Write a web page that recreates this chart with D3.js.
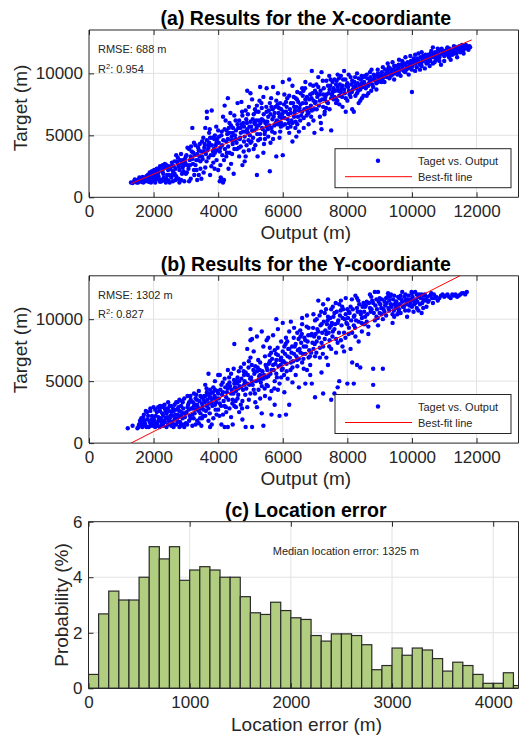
<!DOCTYPE html>
<html>
<head>
<meta charset="utf-8">
<script src="https://cdn.jsdelivr.net/npm/d3@7"></script>
<style>
  body { margin: 0; background: #fff; }
  text { font-family: "Liberation Sans", Arial, Helvetica, sans-serif; }
</style>
</head>
<body>
<script>
// (a) X-coordinate: [output, target] in metres
const pointsX = [
  [1300,1200],[1350,1150],[1400,1300],[1450,1250],[1500,1400],[1520,1200],[1600,1350],[1650,1500],[1700,1600],[1750,1300],[1780,1700],[1420,1450],[1560,1600],[1680,1200],[1800,1450],
  [1850,1250],[1900,1800],[1950,2100],[2000,1400],[2050,1200],[2100,2300],[2150,1700],[2200,2500],[2250,1300],[2300,1900],[2350,2700],[2400,1500],[2450,2200],[2500,1200],[1900,1300],[2000,2000],[2100,1500],[2200,1250],[2300,2300],[2400,2600],[2480,1800],[2050,1700],[2150,2000],[2350,1400],[1950,1600],
  [2550,2500],[2600,1300],[2650,2900],[2700,1700],[2750,3200],[2800,2200],[2850,1400],[2900,3000],[2950,2600],[3000,1900],[2600,2100],[2700,3400],[2800,1200],[2900,2400],[2550,1600],[2750,2700],[2850,3500],[2950,1300],[2650,1900],[3000,3300],
  [3050,2600],[3100,3900],[3150,1500],[3200,3100],[3200,5600],[3250,2200],[3300,4200],[3350,3500],[3400,1800],[3450,2900],[3500,4500],[3100,1300],[3300,2600],[3400,3800],[3050,4000],[3150,3300],[3250,4400],[3350,1400],[3450,2300],[3500,3300],[3380,3000],[3480,1500],
  [3550,3700],[3600,2400],[3650,4600],[3650,6900],[3700,3200],[3720,5200],[3750,1800],[3800,4200],[3800,7000],[3850,2800],[3900,5000],[3900,3600],[3950,4400],[4000,2200],[3600,5600],[3700,4000],[3850,3400],[3950,3000],[3550,2000],[3750,4800],[4000,5400],[3650,6400],[3880,4700],[3980,3800],[3580,4300],
  [4050,1300],[4100,1500],[4150,1200],[4180,1400],[4080,1600],[4120,4200],[4200,5500],[4250,3300],[4300,8000],[4300,4700],[4350,6000],[4400,2700],[4450,5200],[4500,3900],[4150,6500],[4200,7400],[4250,4500],[4350,3600],[4400,5800],[4450,4300],[4500,6600],[4050,3700],[4100,5000],[4320,2300],[4480,1900],[4420,4900],[4280,5100],[4180,3000],[4380,6800],
  [4550,4700],[4600,5900],[4600,7600],[4650,3300],[4700,5200],[4750,6600],[4750,2600],[4800,4500],[4850,7000],[4900,8600],[4900,5500],[4950,3800],[5000,6100],[5000,8400],[4550,5400],[4650,6200],[4700,4100],[4800,5700],[4850,3300],[4950,7300],[4580,3900],[4680,4800],[4780,6000],[4880,4200],[4980,5000],[4720,7700],[4820,2900],[4920,6700],[5000,4400],
  [5050,5400],[5100,6700],[5150,4200],[5200,1800],[5200,7400],[5250,5800],[5300,8900],[5300,4700],[5350,6300],[5400,8100],[5400,3600],[5450,5300],[5500,8800],[5500,6900],[5050,7900],[5100,3900],[5150,5900],[5250,6900],[5300,5100],[5350,7200],[5450,4700],[5500,5700],[5080,4800],[5180,6200],[5280,7800],[5380,5500],[5480,6100],[5420,4300],[5220,3300],[5120,6000],
  [5550,6500],[5600,2100],[5600,7600],[5650,5600],[5700,8900],[5700,4700],[5750,6800],[5800,3300],[5800,7800],[5850,5900],[5900,6500],[5900,4800],[5950,7100],[6000,9300],[6000,3400],[6000,5800],[5550,4900],[5650,7300],[5750,5200],[5850,8400],[5950,6000],[5580,5800],[5680,6300],[5780,6000],[5880,7200],[5980,6700],[5620,4400],[5920,5300],
  [6050,6400],[6100,7700],[6150,5600],[6200,8200],[6250,6800],[6300,4500],[6300,9000],[6350,7300],[6400,6100],[6450,8500],[6500,7000],[6500,5300],[6100,6900],[6200,5200],[6250,7600],[6350,6500],[6400,8000],[6450,5900],[6050,8300],[6150,6300],[6380,7000],[6480,7700],[6200,9500],[6300,6000],[6420,4900],
  [6550,7500],[6600,8800],[6650,6400],[6700,9300],[6750,7200],[6800,5900],[6850,8300],[6900,10200],[6900,7000],[6950,6200],[7000,8600],[7000,7600],[6600,6900],[6700,7900],[6800,6800],[6850,9100],[6950,7800],[6550,8400],[6650,5600],[6750,8100],[6980,5200],[6620,7600],[6880,6500],
  [7050,7100],[7100,8900],[7150,7800],[7200,5500],[7200,10100],[7250,8300],[7300,6900],[7350,9400],[7400,7600],[7450,8700],[7500,5400],[7500,8000],[7100,9700],[7150,6500],[7300,7900],[7400,9000],[7050,8400],[7250,7300],[7350,8300],[7450,7100],[7180,6000],[7480,9500],
  [7550,8500],[7600,9500],[7650,7600],[7700,8900],[7750,8200],[7800,9800],[7850,7300],[7900,10200],[7900,8700],[7950,8000],[8000,9200],[7600,8100],[7700,9900],[7800,8500],[7950,6900],[7650,9100],[7850,9000],[8000,7800],[7580,7900],[7750,7500],
  [8050,8600],[8100,9700],[8150,7100],[8200,6900],[8250,9000],[8300,8400],[8350,9600],[8400,7800],[8450,9200],[8500,8200],[8100,8100],[8200,8900],[8300,10000],[8400,8700],[8500,9700],[8150,9400],[8350,7600],[8450,8000],[8250,8200],
  [8550,9100],[8600,9900],[8650,8400],[8700,9400],[8750,10300],[8800,8900],[8850,9700],[8900,9200],[8950,10000],[9000,9500],[8600,8200],[8700,10100],[8800,9500],[8900,8700],[8650,9000],[8950,9300],
  [9050,9800],[9100,10500],[9150,9300],[9200,10000],[9250,10800],[9300,9600],[9350,10300],[9400,9900],[9450,10600],[9500,10100],[9100,9600],[9250,10200],[9400,10900],[9450,9500],[9200,9900],[9350,9800],
  [9550,10400],[9600,11100],[9650,9800],[9700,10600],[9750,10200],[9800,11300],[9850,10500],[9900,9900],[9950,10800],[10000,8500],[10000,10300],[9600,10000],[9700,11000],[9800,10700],[9900,10400],[9650,10300],[9950,11400],[9550,9900],
  [10050,10800],[10100,11500],[10150,10500],[10200,11100],[10250,10700],[10300,11700],[10350,11000],[10400,10400],[10450,11300],[10500,10900],[10100,10200],[10200,11600],[10300,10600],[10400,11100],[10500,11500],[10150,11000],[10350,11400],[10250,10300],[10450,10800],
  [10550,11200],[10600,11800],[10650,10800],[10700,11500],[10750,11100],[10800,12000],[10850,11300],[10900,10700],[10950,11700],[11000,11400],[10600,11400],[10700,10900],[10800,11600],[10900,11900],[11000,11000],[10650,12100],[10850,11000],[10550,10600],
  [11050,11700],[11100,12100],[11150,11300],[11200,11900],[11250,11500],[11300,12200],[11350,11800],[11400,11300],[11450,12000],[11500,11700],[11550,12300],[11600,11900],[11650,12100],[11700,12200],[11750,11900],[11200,11100],[11400,12100],[11600,11600],[11100,11500],[11300,11600],[11500,12100],[11800,12100],
  // dense core along the diagonal
  [1430,1350],[1480,1200],[1530,1300],[1580,1450],[1620,1250],[1660,1650],[1720,1450],[1760,1550],[1820,1800],[1860,1500],[1880,2000],[1920,1200],[1970,1850],
  [2020,2200],[2070,1500],[2120,1900],[2170,2300],[2220,1450],[2270,2100],[2320,1600],[2370,2400],[2420,1800],[2470,2500],[2080,2100],[2180,1350],[2280,2600],[2380,1200],[2460,1350],
  [2520,2300],[2570,2800],[2620,2500],[2680,2300],[2720,2900],[2770,1500],[2820,3000],[2870,2700],[2920,2100],[2970,3100],[2580,1800],[2680,1400],[2780,2500],[2880,1900],[2980,2800],
  [3020,3400],[3080,2300],[3120,3000],[3180,3700],[3220,2700],[3280,3400],[3320,3000],[3380,4000],[3420,3300],[3470,3700],[3030,2000],[3130,2600],[3230,3600],[3330,2200],[3430,4300],[3160,4100],[3260,1800],
  [3520,3100],[3570,4000],[3620,3500],[3670,3800],[3720,4400],[3770,3400],[3820,4800],[3870,3900],[3920,4200],[3970,4700],[3540,4800],[3640,2900],[3740,5500],[3840,3700],[3940,5700],[3690,4200],[3790,2500],[3890,2300],
  [4020,4400],[4070,4000],[4110,5300],[4160,4600],[4210,3900],[4260,5400],[4310,4100],[4360,5200],[4410,4600],[4460,5600],[4030,4900],[4130,3400],[4230,6200],[4330,5600],[4430,3500],[4490,4600],[4070,2600],[4270,3600],
  [4520,5000],[4570,4400],[4620,5600],[4670,4700],[4720,5900],[4770,5300],[4820,4900],[4870,6300],[4920,5200],[4970,5700],[4540,6200],[4640,4000],[4740,6900],[4840,5300],[4940,4600],[4690,5600],[4890,6000],[4790,3700],
  [5020,5700],[5070,6300],[5120,5400],[5170,6900],[5210,5100],[5260,6200],[5310,6000],[5360,5600],[5410,6700],[5460,6000],[5030,4500],[5140,7100],[5240,4600],[5340,7600],[5440,5100],[5190,5600],[5390,6200],[5490,7300],
  [5520,6100],[5570,7000],[5620,6700],[5670,5300],[5720,6500],[5770,7300],[5820,6200],[5870,6800],[5920,7600],[5970,6400],[5540,5500],[5640,8000],[5740,5800],[5840,7500],[5940,5700],[5690,7100],[5890,6100],
  [6020,6900],[6070,5900],[6120,7300],[6170,6700],[6220,7100],[6270,6200],[6320,7600],[6370,6800],[6420,7300],[6470,6500],[6040,7500],[6140,8000],[6240,5700],[6340,8100],[6440,7900],[6190,6000],[6390,5600],
  [6520,7200],[6570,6600],[6620,8200],[6670,7100],[6720,7600],[6770,6900],[6820,7900],[6870,7400],[6920,8400],[6970,7100],[6540,6200],[6640,8600],[6740,6600],[6840,7200],[6940,9000],[6690,8800],[6890,8000],
  [7020,7700],[7070,8100],[7120,7400],[7170,8600],[7220,7900],[7270,8800],[7320,8100],[7370,7700],[7420,8400],[7470,9000],[7040,9100],[7140,8300],[7240,9400],[7340,7200],[7440,9800],[7290,6700],
  [7520,8300],[7570,8800],[7620,8600],[7670,9400],[7720,8600],[7770,9100],[7820,8800],[7870,9500],[7920,8400],[7970,9000],[7540,9300],[7640,8000],[7740,9600],[7840,8100],[7940,9500],[7690,7800],
  [8020,8900],[8070,8300],[8120,9100],[8170,8700],[8220,9300],[8270,8800],[8320,9200],[8370,9000],[8420,9500],[8470,8900],[8040,9900],[8140,8500],[8240,9700],[8340,8600],[8440,9800],
  [8520,9300],[8570,8800],[8620,9600],[8670,9200],[8720,9700],[8770,9100],[8820,9900],[8870,9400],[8920,9800],[8970,9600],[8540,9800],[8740,8600],[8940,10300],
  [9020,9700],[9070,10100],[9120,9800],[9170,10300],[9220,9700],[9270,10000],[9320,10400],[9370,10100],[9420,10300],[9470,10000],[9060,9300],[9280,10500],[9490,10600],
  [9520,10200],[9570,10500],[9620,10300],[9670,10700],[9720,10400],[9770,10800],[9820,10300],[9870,10900],[9920,10600],[9970,11000],[9590,10700],[9790,10100],[9960,10500],
  [10020,10600],[10070,11000],[10120,10800],[10170,11200],[10220,10900],[10270,11300],[10320,11000],[10370,11200],[10420,11500],[10470,11100],[10060,11200],[10280,10800],[10490,11300],
  [10520,11300],[10570,11000],[10620,11600],[10670,11300],[10720,11700],[10770,11400],[10820,11800],[10870,11500],[10920,12000],[10970,11600],[10580,11600],[10780,11200],[10980,11800],
  [11020,11600],[11070,11900],[11120,11700],[11170,12000],[11220,11700],[11270,11800],[11320,12000],[11370,12100],[11420,11900],[11470,12200],[11520,11900],[11570,12100],[11620,12000],[11670,12300],[11720,12000],[11780,12200],[11180,11500],[11380,11600],[11580,11800]
];

// (b) Y-coordinate: [output, target] in metres
const pointsY = [
  [1200,1200],[1350,1400],[1500,1200],[1600,1700],[1700,2300],[1750,1400],[1800,1900],[1850,1300],[1900,2600],[1950,1600],[2000,2900],[1650,1300],[1800,2500],[1900,1400],[2000,2000],[1700,1800],[1550,1500],[1950,2200],
  [2050,1300],[2100,2500],[2150,1800],[2200,3000],[2250,1500],[2300,2200],[2350,2800],[2400,1300],[2450,3300],[2500,2000],[2100,1600],[2200,2600],[2300,1400],[2400,2400],[2500,3000],[2150,2100],[2250,2900],[2350,1700],[2450,1500],[2050,2700],[2380,2000],[2480,2600],
  [2550,1400],[2600,2800],[2650,1900],[2700,3300],[2750,2300],[2800,1300],[2850,3000],[2900,2000],[2950,3600],[3000,1600],[2600,2200],[2700,1500],[2800,2600],[2900,3300],[3000,2400],[2650,3100],[2750,1700],[2850,2200],[2950,1300],[2550,2500],[2700,2700],[2900,1500],[2800,3500],[2620,1300],
  [3050,2900],[3100,1800],[3150,3500],[3200,2300],[3250,4000],[3300,1500],[3350,3100],[3400,2600],[3450,3800],[3500,2000],[3100,3300],[3200,1400],[3300,2700],[3400,4200],[3500,3200],[3150,2000],[3250,3000],[3350,1800],[3450,2400],[3050,3800],[3300,3600],[3480,1400],[3200,2800],[3400,1600],
  [3550,3500],[3600,2200],[3650,4100],[3700,5600],[3700,2800],[3750,3700],[3800,1500],[3850,4500],[3900,3100],[3950,2300],[4000,4000],[3600,4700],[3700,1800],[3800,3300],[3900,5000],[4000,2700],[3650,3000],[3750,4300],[3850,2000],[3950,3600],[3550,2700],[3750,1300],[3900,4300],[4000,5500],[3600,3800],
  [4050,3200],[4100,4700],[4150,2300],[4200,5200],[4250,3700],[4300,1300],[4300,4400],[4350,2800],[4400,5600],[4450,3500],[4500,8000],[4500,4800],[4100,1500],[4200,3000],[4300,5900],[4400,2100],[4500,3000],[4150,4100],[4250,2500],[4350,4900],[4450,1500],[4050,5500],[4400,4000],[4200,1300],[4480,6000],
  [4550,4200],[4600,5300],[4650,2500],[4700,6100],[4750,3400],[4800,4700],[4850,1300],[4850,5700],[4900,2900],[4950,6600],[5000,9200],[5000,4000],[4600,3600],[4700,4500],[4800,5500],[4900,4800],[5000,8300],[4650,5000],[4750,1900],[4950,3500],[5000,6900],[4550,2900],[4700,3100],[4900,7600],[4800,6400],[4620,4400],
  [5050,5000],[5100,7400],[5150,3300],[5200,8600],[5200,5800],[5250,4300],[5300,6500],[5350,2400],[5350,9000],[5400,5200],[5450,7000],[5500,4700],[5500,6100],[5050,1300],[5100,4300],[5200,2900],[5300,5500],[5400,7800],[5450,3800],[5150,6200],[5250,5100],[5350,4600],[5050,8400],[5400,1400],[5500,8300],[5300,3600],
  [5550,5400],[5600,7700],[5650,4200],[5700,8700],[5700,6300],[5750,3100],[5800,10000],[5800,5600],[5850,7100],[5900,2200],[5900,4800],[5950,8200],[6000,6000],[6000,9700],[5600,6600],[5650,2300],[5750,5000],[5850,9200],[5950,6900],[5550,8500],[5650,5900],[5750,7500],[5850,4300],[5950,5300],[6000,7400],[5600,3600],[5800,6700],
  [6050,6500],[6100,8500],[6100,2300],[6150,5200],[6200,7600],[6200,3100],[6250,9800],[6300,6100],[6350,7200],[6400,5500],[6450,8900],[6500,4500],[6500,6800],[6050,4100],[6150,7000],[6250,6500],[6350,9300],[6450,6200],[6300,4900],[6400,8000],[6050,7800],[6200,9000],[6480,7500],[6120,5800],
  [6550,7300],[6600,9600],[6650,6000],[6700,8300],[6700,4800],[6750,10300],[6800,6900],[6850,5500],[6900,8800],[6950,7600],[7000,3700],[7000,9900],[6600,6500],[6700,7200],[6800,9300],[6900,4800],[6950,10400],[6550,8600],[6650,7800],[6850,6300],[6750,5900],[7000,7000],[6600,10100],[6880,7300],
  [7050,8200],[7100,11500],[7150,6900],[7200,9600],[7250,4000],[7250,7800],[7300,10500],[7350,8800],[7400,6300],[7400,11600],[7450,9300],[7500,3500],[7500,7600],[7100,9000],[7200,5700],[7300,8400],[7400,10200],[7500,10800],[7050,10000],[7150,7700],[7350,6900],[7450,8300],[7250,11200],[7500,9500],[7200,8100],
  [7550,9000],[7600,4000],[7600,10500],[7650,7300],[7700,4500],[7700,9700],[7750,11200],[7800,8300],[7850,10100],[7900,8900],[7950,11700],[8000,4800],[8000,9600],[7550,11000],[7650,8400],[7750,5000],[7850,7800],[7950,10400],[7600,9200],[7800,11500],[7900,7400],[7700,8100],[8000,10800],
  [8050,9300],[8100,11000],[8150,6500],[8200,4800],[8200,10200],[8250,8600],[8300,6300],[8300,11700],[8350,9800],[8400,10600],[8450,9000],[8500,11300],[8050,10600],[8150,8900],[8250,11900],[8350,8200],[8450,10100],[8500,9600],[8100,7600],[8400,6100],[8200,9500],[8300,10900],
  [8550,10200],[8600,11400],[8650,9400],[8700,12000],[8750,10800],[8800,4700],[8800,6000],[8850,9900],[8900,11600],[8950,12200],[9000,10500],[8600,9800],[8700,10900],[8800,11300],[8900,10200],[9000,11700],[8650,8800],[8850,12200],[8550,11000],[8950,9500],
  [9050,10900],[9100,6000],[9150,11400],[9200,10300],[9250,11800],[9300,10700],[9350,11200],[9400,9700],[9450,11900],[9500,10900],[9100,10000],[9200,11700],[9300,11500],[9400,10400],[9500,11400],[9150,10600],[9350,12000],[9450,10200],
  [9550,11100],[9600,11700],[9650,10500],[9700,12200],[9750,11000],[9800,11500],[9850,10200],[9900,11900],[9950,11300],[10000,12100],[9600,10800],[9700,11400],[9800,12000],[9900,10700],[10000,11000],[9650,11900],[9850,11600],[9550,10400],
  [10050,11500],[10100,12200],[10150,10900],[10200,11800],[10250,11200],[10300,10500],[10350,11600],[10400,12000],[10450,11000],[10500,11400],[10100,11300],[10200,10700],[10300,12000],[10400,11500],[10150,12000],[10350,10900],[10050,10600],
  [10600,12100],[10700,11700],[10800,11500],[10900,11900],[11000,11800],[11100,12000],[11200,11700],[11300,11900],[11400,11800],[11500,12000],[11600,12100],[11700,12200],[10650,11300],[10850,11700],[11050,11900],[11250,12000],[11450,11900],
  // dense body of the cloud
  [1530,1300],[1580,1800],[1630,1500],[1680,2100],[1730,1600],[1780,1300],[1830,2200],[1880,1700],[1930,1900],[1980,1400],[1620,2000],[1760,2600],[1900,2800],
  [2020,1800],[2070,2200],[2120,1400],[2170,2600],[2220,2000],[2270,2400],[2320,1800],[2370,2600],[2420,2100],[2470,1800],[2040,1500],[2140,2900],[2240,1700],[2340,3100],[2440,2800],[2190,1300],[2290,3000],
  [2520,2200],[2570,1700],[2620,2600],[2670,2300],[2720,1900],[2770,2900],[2820,1700],[2870,2500],[2920,2800],[2970,2100],[2540,3000],[2640,1500],[2740,3300],[2840,1400],[2940,2400],[2690,2000],[2790,2100],[2890,3400],
  [3020,2500],[3070,3100],[3120,2200],[3170,2800],[3220,3300],[3270,2400],[3320,3900],[3370,2900],[3420,3400],[3470,2800],[3040,1500],[3140,3800],[3240,2000],[3340,3500],[3440,2000],[3090,2700],[3290,3100],[3490,3700],
  [3520,3000],[3570,3800],[3620,2600],[3670,3500],[3720,3200],[3770,4000],[3820,3000],[3870,3600],[3920,2700],[3970,4200],[3540,2200],[3640,4400],[3740,2400],[3840,4100],[3940,3300],[3690,3900],[3890,3800],[3590,3300],[3790,3600],
  [4020,3600],[4070,4300],[4120,3900],[4170,3400],[4220,4500],[4270,4100],[4320,3500],[4370,4600],[4420,4300],[4470,4000],[4040,2200],[4140,4900],[4240,2900],[4340,5300],[4440,3200],[4090,3000],[4290,4700],[4490,5100],
  [4520,4500],[4570,5000],[4620,3900],[4670,4600],[4720,5200],[4770,4300],[4820,5000],[4870,4400],[4920,5500],[4970,4700],[4540,3400],[4640,5800],[4740,2800],[4840,3900],[4940,6100],[4590,4800],[4790,5800],[4990,5200],
  [5020,5300],[5070,4700],[5120,5600],[5170,5000],[5220,6100],[5270,5400],[5320,4900],[5370,5800],[5420,5500],[5470,6300],[5040,6300],[5140,4000],[5240,6700],[5340,5200],[5440,4400],[5090,5900],[5290,5900],[5490,5300],
  [5520,5900],[5570,6400],[5620,5600],[5670,6800],[5720,5900],[5770,6400],[5820,5300],[5870,6200],[5920,6700],[5970,5900],[5540,4600],[5640,7300],[5740,4400],[5840,7700],[5940,6300],[5590,7100],[5790,7200],[5990,6600],
  [6020,6600],[6070,7200],[6120,6400],[6170,7600],[6220,6900],[6270,7300],[6320,6600],[6370,7800],[6420,7000],[6470,7500],[6040,5500],[6140,8200],[6240,5900],[6340,8500],[6440,6700],[6090,8000],[6290,7800],[6490,8400],
  [6520,7600],[6570,8100],[6620,7200],[6670,8500],[6720,7800],[6770,8200],[6820,7500],[6870,8700],[6920,8100],[6970,8600],[6540,9100],[6640,6800],[6740,9400],[6840,7000],[6940,9300],[6590,8800],[6790,8700],[6990,8000],
  [7020,8800],[7070,9200],[7120,8500],[7170,9500],[7220,8900],[7270,9800],[7320,9100],[7370,9600],[7420,8900],[7470,10100],[7040,7300],[7140,10300],[7240,7200],[7340,10800],[7440,7800],[7190,10600],[7390,9900],
  [7520,9700],[7570,10200],[7620,9600],[7670,10600],[7720,9900],[7770,10300],[7820,9500],[7870,10800],[7920,10000],[7970,9700],[7540,8600],[7640,11300],[7740,8900],[7840,11000],[7940,8500],[7790,10700],
  [8020,10100],[8070,10500],[8120,9900],[8170,10800],[8220,10300],[8270,9900],[8320,10600],[8370,11200],[8420,10400],[8470,11000],[8040,8800],[8140,11600],[8240,9300],[8340,11500],[8440,9700],
  [8520,10600],[8570,11100],[8620,10400],[8670,11300],[8720,10600],[8770,11500],[8820,10500],[8870,11100],[8920,10800],[8970,11400],[8540,9600],[8740,11800],[8940,10100],
  [9020,11200],[9070,11600],[9120,10800],[9170,11100],[9220,11300],[9270,10900],[9320,11800],[9370,11000],[9420,11600],[9470,11200],[9060,10400],[9260,12100],[9440,10700],
  [9520,11400],[9570,11800],[9620,11200],[9670,11600],[9720,11000],[9770,11800],[9820,11200],[9870,11500],[9920,11100],[9970,11600],[9590,10600],[9790,10700],[9990,12200],
  [10020,11800],[10070,11200],[10120,11600],[10170,11400],[10220,12000],[10270,11700],[10320,11300],[10370,11900],[10420,11600],[10470,11800],[10520,11500],[10560,11900],[10620,11700],[10680,12000],
  [10750,11800],[10950,12000],[11150,11800],[11350,12000],[11550,12100],[11650,12000]
];

// best-fit line end points [output, target]
const fitLineX = [[1300, 1100], [11850, 12700]];
const fitLineY = [[1300, 0], [11650, 13720]];

const statsX = {rmse: 'RMSE: 688 m', r2: '0.954'};
const statsY = {rmse: 'RMSE: 1302 m', r2: '0.827'};

// (c) histogram, 100 m bins, probability in %
const binWidth = 100;
const errorProb = [
  0.5, 2.68, 3.5, 3.18, 3.18, 4.0, 5.1, 4.66, 5.1, 3.89,
  4.26, 4.38, 4.26, 4.0, 4.0, 3.3, 2.72, 2.66, 3.1, 2.8,
  2.54, 2.48, 1.9, 1.7, 1.96, 1.96, 1.9, 1.57, 0.67, 0.82,
  1.45, 1.19, 1.45, 1.38, 1.07, 0.62, 0.94, 0.82, 0.5, 0.18,
  0.18, 0.56, 0.1
];

const scatterXTicks = [0, 2000, 4000, 6000, 8000, 10000, 12000];
const scatterYTicks = [0, 5000, 10000];
const histXTicks = [0, 1000, 2000, 3000, 4000];
const histYTicks = [0, 2, 4, 6];

const width = 519;
const height = 735;
const axisColor = '#262626';
const gridColor = '#e2e2e2';
const left = 89;
const right = 518.5;
const dotR = 2.2;
const fmt = d3.format('d');

const svg = d3.select('body').append('svg')
    .attr('width', width)
    .attr('height', height);

function styleAxes(list) {
  list.forEach(a => {
    a.select('.domain').attr('stroke', axisColor);
    a.selectAll('.tick line').attr('stroke', axisColor);
    a.selectAll('.tick text').attr('fill', axisColor).style('font-size', '17px');
  });
}

// one scatter panel (box, grid, dots, fit line, legend)
function drawScatter(top, pts, fit, stats, title, ylabelY, id) {
  const bottom = top + 167.3;
  const x = d3.scaleLinear().domain([0, 13300]).range([left, right]);
  const y = d3.scaleLinear().domain([0, 13500]).range([bottom, top]);
  const g = svg.append('g');

  g.append('clipPath').attr('id', 'clip' + id)
    .append('rect').attr('x', left).attr('y', top)
    .attr('width', right - left).attr('height', bottom - top);

  g.append('g').selectAll('line').data(scatterXTicks.slice(1)).enter().append('line')
      .attr('x1', d => x(d)).attr('x2', d => x(d))
      .attr('y1', top).attr('y2', bottom)
      .attr('stroke', gridColor).attr('stroke-width', 1);
  g.append('g').selectAll('line').data(scatterYTicks.slice(1)).enter().append('line')
      .attr('x1', left).attr('x2', right)
      .attr('y1', d => y(d)).attr('y2', d => y(d))
      .attr('stroke', gridColor).attr('stroke-width', 1);

  g.append('g').attr('clip-path', 'url(#clip' + id + ')')
    .selectAll('circle').data(pts).enter().append('circle')
      .attr('cx', d => x(d[0])).attr('cy', d => y(d[1]))
      .attr('r', dotR).attr('fill', '#0000ff');

  g.append('path').attr('clip-path', 'url(#clip' + id + ')')
      .attr('d', d3.line().x(d => x(d[0])).y(d => y(d[1]))(fit))
      .attr('stroke', '#ff0000').attr('stroke-width', 1).attr('fill', 'none');

  // axes (ticks point inward like matlab)
  const xAxis = g.append('g').attr('transform', 'translate(0,' + bottom + ')')
      .call(d3.axisBottom(x).tickValues(scatterXTicks).tickFormat(fmt)
        .tickSizeInner(-5).tickSizeOuter(0).tickPadding(8));
  const xTop = g.append('g').attr('transform', 'translate(0,' + top + ')')
      .call(d3.axisTop(x).tickValues(scatterXTicks).tickSizeInner(-5).tickSizeOuter(0).tickFormat(''));
  const yAxis = g.append('g').attr('transform', 'translate(' + left + ',0)')
      .call(d3.axisLeft(y).tickValues(scatterYTicks).tickFormat(fmt)
        .tickSizeInner(-5).tickSizeOuter(0).tickPadding(6));
  styleAxes([xAxis, xTop, yAxis]);
  xAxis.select('.domain').attr('d', 'M' + left + ',0H' + right);
  xTop.select('.domain').attr('d', 'M' + left + ',0H' + right);
  yAxis.select('.domain').attr('d', 'M0,' + bottom + 'V' + top);
  g.append('line').attr('x1', right).attr('x2', right).attr('y1', top).attr('y2', bottom)
      .attr('stroke', axisColor);

  g.append('text').attr('x', 305.8).attr('y', top - 5)
      .attr('text-anchor', 'middle').style('font-size', '19.5px').style('font-weight', 'bold')
      .attr('fill', '#000').text(title);
  g.append('text').attr('x', 305.8).attr('y', bottom + 42)
      .attr('text-anchor', 'middle').style('font-size', '19px').attr('fill', axisColor)
      .text('Output (m)');
  g.append('text').attr('transform', 'translate(27,' + ylabelY + ') rotate(-90)')
      .attr('text-anchor', 'middle').style('font-size', '19px').attr('fill', axisColor)
      .text('Target (m)');

  g.append('text').attr('x', 98).attr('y', top + 23.3)
      .style('font-size', '11px').attr('fill', axisColor).text(stats.rmse);
  const r2 = g.append('text').attr('x', 98).attr('y', top + 42.5)
      .style('font-size', '11px').attr('fill', axisColor);
  r2.append('tspan').text('R');
  r2.append('tspan').attr('dy', -4).style('font-size', '7.5px').text('2');
  r2.append('tspan').attr('dy', 4).text(': ' + stats.r2);

  // legend
  const lg = g.append('g').attr('transform', 'translate(335,' + (top + 118.7) + ')');
  lg.append('rect').attr('width', 176).attr('height', 39)
      .attr('fill', '#fff').attr('stroke', axisColor).attr('stroke-width', 1);
  lg.append('circle').attr('cx', 43).attr('cy', 12).attr('r', dotR).attr('fill', '#0000ff');
  lg.append('text').attr('x', 83).attr('y', 16).style('font-size', '11px')
      .attr('fill', axisColor).text('Taget vs. Output');
  lg.append('line').attr('x1', 10).attr('x2', 77).attr('y1', 28).attr('y2', 28)
      .attr('stroke', '#ff0000').attr('stroke-width', 1);
  lg.append('text').attr('x', 83).attr('y', 32).style('font-size', '11px')
      .attr('fill', axisColor).text('Best-fit line');
}

drawScatter(30, pointsX, fitLineX, statsX, '(a) Results for the X-coordiante', 108, 'a');
drawScatter(275.8, pointsY, fitLineY, statsY, '(b) Results for the Y-coordiante', 350, 'b');

// HISTOGRAMA DO ERRO DE LOCALIZACAO
function drawHist() {
  const top = 521.7;
  const bottom = 688.3;
  const hl = 88.5;
  const x = d3.scaleLinear().domain([0, 4250]).range([hl, right]);
  const y = d3.scaleLinear().domain([0, 6]).range([bottom, top]);
  const g = svg.append('g');

  g.append('clipPath').attr('id', 'clipc')
    .append('rect').attr('x', hl).attr('y', top - 2)
    .attr('width', right - hl).attr('height', bottom - top + 4);

  g.append('g').selectAll('line').data(histXTicks.slice(1)).enter().append('line')
      .attr('x1', d => x(d)).attr('x2', d => x(d)).attr('y1', top).attr('y2', bottom)
      .attr('stroke', gridColor);
  g.append('g').selectAll('line').data(histYTicks.slice(1, -1)).enter().append('line')
      .attr('x1', hl).attr('x2', right).attr('y1', d => y(d)).attr('y2', d => y(d))
      .attr('stroke', gridColor);

  g.append('g').attr('clip-path', 'url(#clipc)')
    .selectAll('rect').data(errorProb).enter().append('rect')
      .attr('x', (d, i) => x(i * binWidth))
      .attr('width', (d, i) => x((i + 1) * binWidth) - x(i * binWidth))
      .attr('y', d => y(d)).attr('height', d => bottom - y(d))
      .attr('fill', '#b1cd80')
      .attr('stroke', '#2a2a2a').attr('stroke-width', 1.2);

  const xAxis = g.append('g').attr('transform', 'translate(0,' + bottom + ')')
      .call(d3.axisBottom(x).tickValues(histXTicks).tickFormat(fmt)
        .tickSizeInner(-5).tickSizeOuter(0).tickPadding(8));
  const xTop = g.append('g').attr('transform', 'translate(0,' + top + ')')
      .call(d3.axisTop(x).tickValues(histXTicks).tickSizeInner(-5).tickSizeOuter(0).tickFormat(''));
  const yAxis = g.append('g').attr('transform', 'translate(' + hl + ',0)')
      .call(d3.axisLeft(y).tickValues(histYTicks).tickFormat(fmt)
        .tickSizeInner(-5).tickSizeOuter(0).tickPadding(6));
  styleAxes([xAxis, xTop, yAxis]);
  xAxis.select('.domain').attr('d', 'M' + hl + ',0H' + right);
  xTop.select('.domain').attr('d', 'M' + hl + ',0H' + right);
  yAxis.select('.domain').attr('d', 'M0,' + bottom + 'V' + top);
  g.append('line').attr('x1', right).attr('x2', right).attr('y1', top).attr('y2', bottom)
      .attr('stroke', axisColor);

  g.append('text').attr('x', 305.8).attr('y', top - 5)
      .attr('text-anchor', 'middle').style('font-size', '19.5px').style('font-weight', 'bold')
      .attr('fill', '#000').text('(c) Location error');
  g.append('text').attr('x', 306.5).attr('y', 731)
      .attr('text-anchor', 'middle').style('font-size', '19px').attr('fill', axisColor)
      .text('Location error (m)');
  g.append('text').attr('transform', 'translate(68,605) rotate(-90)')
      .attr('text-anchor', 'middle').style('font-size', '19px').attr('fill', axisColor)
      .text('Probability (%)');
  g.append('text').attr('x', 345.8).attr('y', 555).attr('text-anchor', 'middle')
      .style('font-size', '11px').attr('fill', axisColor)
      .text('Median location error: 1325 m');
}

drawHist();
</script>
</body>
</html>
